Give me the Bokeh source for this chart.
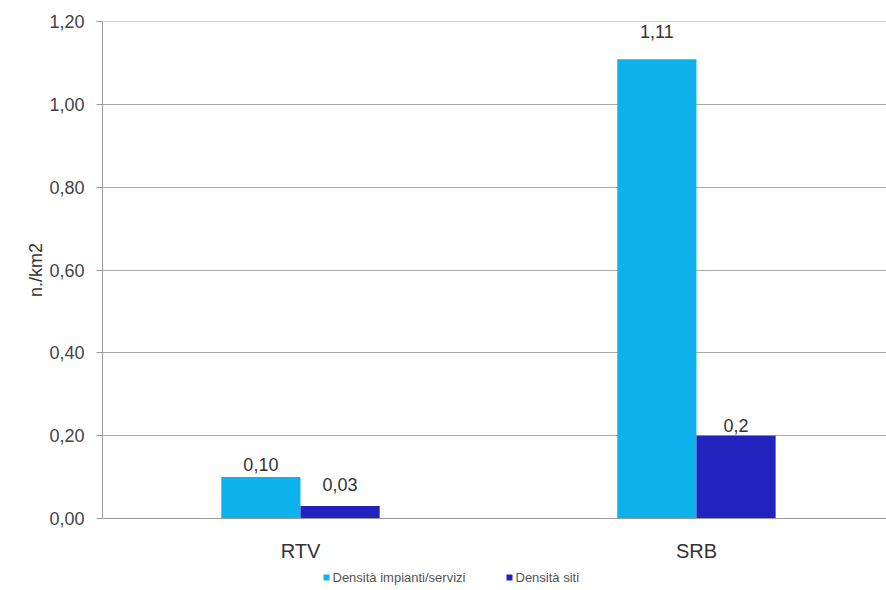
from bokeh.plotting import figure
from bokeh.layouts import column
from bokeh.models import ColumnDataSource, Range1d, CustomJSTickFormatter, FixedTicker
from bokeh.core.properties import value
from bokeh.embed import file_html
from bokeh.resources import INLINE

# Data
regions = ["RTV", "SRB"]
density_services = [0.10, 1.11]
density_sites = [0.03, 0.2]
services_labels = ["0,10", "1,11"]
sites_labels = ["0,03", "0,2"]
series_names = ["Densità impianti/servizi", "Densità siti"]
y_ticks = [0.0, 0.2, 0.4, 0.6, 0.8, 1.0, 1.2]

# Styling
LIGHT = "#0DB2EC"
DARK = "#2222BE"
FONT = "Liberation Sans"
BAR_W = 0.2
LEFT = 102  # width of the y-axis panel
# vertical lift (px) of each value label above its bar
services_lift = [13, 28]
sites_lift = [22, 10]

# category slots: one unit per region, bars dodged around the slot centre
centres = [i + 0.5 for i in range(len(regions))]

src = ColumnDataSource(dict(
    xs=[c - BAR_W / 2 for c in centres],
    xd=[c + BAR_W / 2 for c in centres],
    services=density_services,
    sites=density_sites,
    services_lbl=services_labels,
    sites_lbl=sites_labels,
    services_off=[-v for v in services_lift],
    sites_off=[-v for v in sites_lift],
))

p = figure(
    x_range=Range1d(0, 1.98),
    y_range=Range1d(0, 1.201),
    width=886, height=565,
    output_backend="svg", toolbar_location=None,
    min_border_left=LEFT, min_border_right=0, min_border_top=21, min_border_bottom=47,
)
p.outline_line_color = None
p.background_fill_color = "white"
p.border_fill_color = "white"

p.vbar(x="xs", top="services", width=BAR_W, source=src, color=LIGHT, line_color=None)
p.vbar(x="xd", top="sites", width=BAR_W, source=src, color=DARK, line_color=None)

# value labels above the bars
label_style = dict(text_align="center", text_baseline="alphabetic",
                   text_font=value(FONT), text_font_size="18px", text_color="#333333")
p.text(x="xs", y="services", text="services_lbl", y_offset="services_off", source=src, **label_style)
p.text(x="xd", y="sites", text="sites_lbl", y_offset="sites_off", source=src, **label_style)

# y axis
p.yaxis.ticker = FixedTicker(ticks=y_ticks)
p.yaxis.formatter = CustomJSTickFormatter(code="return tick.toFixed(2).replace('.', ',');")
p.yaxis.axis_label = "n./km2"
p.yaxis.axis_label_text_font = FONT
p.yaxis.axis_label_text_font_size = "18px"
p.yaxis.axis_label_text_font_style = "normal"
p.yaxis.axis_label_text_color = "#333333"
p.yaxis.axis_label_standoff = 0
p.yaxis.major_label_text_font = FONT
p.yaxis.major_label_text_font_size = "18px"
p.yaxis.major_label_text_color = "#444444"
p.yaxis.major_label_standoff = 12
p.yaxis.axis_line_color = "#9a9a9a"
p.yaxis.major_tick_line_color = "#9a9a9a"
p.yaxis.major_tick_out = 6
p.yaxis.major_tick_in = 0
p.yaxis.minor_tick_line_color = None

# x axis: region names at the slot centres
p.xaxis.ticker = FixedTicker(ticks=centres)
p.xaxis.major_label_overrides = {c: r for c, r in zip(centres, regions)}
p.xaxis.major_label_text_font = FONT
p.xaxis.major_label_text_font_size = "20px"
p.xaxis.major_label_text_color = "#333333"
p.xaxis.major_label_standoff = 15
p.xaxis.axis_line_color = "#9a9a9a"
p.xaxis.major_tick_line_color = None
p.xaxis.minor_tick_line_color = None

p.xgrid.grid_line_color = None
p.ygrid.grid_line_color = "#a8a8a8"
p.ygrid.grid_line_width = 1

# legend strip under the chart; its frame lines up with the chart frame,
# so the x range is given in page pixels from LEFT to the right edge
lg = figure(width=886, height=25, x_range=Range1d(LEFT, 886), y_range=Range1d(0, 25),
            output_backend="svg", toolbar_location=None,
            x_axis_type=None, y_axis_type=None,
            min_border_left=LEFT, min_border_right=0, min_border_top=0, min_border_bottom=0)
lg.outline_line_color = None
lg.grid.grid_line_color = None
key_x = [326, 509]
key_y = [13, 13]
lg.scatter(x=key_x, y=key_y, marker="square", size=6, color=[LIGHT, DARK], line_color=None)
lg.text(x=[k + 6 for k in key_x], y=key_y, text=series_names,
        text_align="left", text_baseline="middle",
        text_font=value(FONT), text_font_size="13px", text_color="#555555")

layout = column(p, lg, spacing=0)
open("out.html", "w").write(file_html(layout, INLINE))
